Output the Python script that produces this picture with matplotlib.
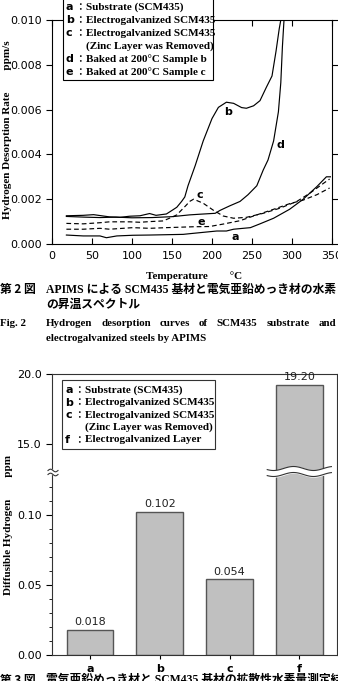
import numpy as np
import matplotlib
matplotlib.use('Agg')
import matplotlib.pyplot as plt
from matplotlib.patches import Rectangle
from matplotlib.ticker import MultipleLocator, FormatStrFormatter
from matplotlib import transforms

W, H = 338, 681
SERIF = ['Liberation Serif', 'Noto Sans CJK JP']
CJK = ['Noto Sans CJK JP', 'DejaVu Sans']

# --- Fig. 2 : desorption curves (temperature degC, rate ppm/s) ---
temp_a = [18, 39, 60, 68, 81, 101, 122, 164, 172, 206, 218, 227, 248, 260, 277, 297, 314, 331, 343, 348]
rate_a = [0.0004, 0.00036, 0.00036, 0.00028, 0.00036, 0.00039, 0.0004, 0.00043, 0.00046, 0.00058,
          0.00058, 0.00066, 0.00073, 0.0009, 0.00115, 0.00155, 0.002, 0.00256, 0.003, 0.003]
temp_b = [18, 39, 52, 72, 85, 97, 110, 122, 130, 143, 150, 156, 162, 166, 170, 175, 179, 189, 200,
          208, 218, 227, 237, 243, 252, 260, 268, 275, 280, 284, 286]
rate_b = [0.00126, 0.00128, 0.00131, 0.00121, 0.00119, 0.00124, 0.00126, 0.00136, 0.00128, 0.00134,
          0.0015, 0.00164, 0.0019, 0.0021, 0.0026, 0.0031, 0.0035, 0.0046, 0.0056, 0.0061, 0.00633,
          0.00628, 0.00609, 0.00606, 0.00617, 0.0064, 0.0070, 0.0075, 0.0086, 0.0096, 0.0100]
temp_c = [18, 39, 60, 72, 97, 110, 122, 139, 150, 156, 168, 172, 177, 189, 202, 214, 227, 243, 264,
          285, 306, 322, 339, 347]
rate_c = [0.00092, 0.0009, 0.00095, 0.00099, 0.00099, 0.00097, 0.001, 0.00103, 0.0012, 0.0013,
          0.00174, 0.0019, 0.002, 0.00182, 0.0015, 0.00125, 0.00115, 0.00119, 0.00137, 0.0016,
          0.0019, 0.00226, 0.0027, 0.0029]
temp_d = [18, 40, 60, 80, 100, 125, 150, 172, 185, 204, 210, 222, 235, 245, 256, 264, 270, 277,
          283, 286, 288, 290]
rate_d = [0.00123, 0.0012, 0.00118, 0.0012, 0.00117, 0.00118, 0.00122, 0.0013, 0.00133, 0.00137,
          0.0015, 0.0017, 0.0019, 0.0022, 0.0026, 0.0033, 0.00375, 0.0046, 0.0059, 0.0072, 0.0088, 0.0100]
temp_e = [18, 39, 60, 72, 101, 122, 143, 177, 197, 214, 235, 256, 277, 297, 314, 331, 347]
rate_e = [0.00066, 0.00066, 0.0007, 0.00066, 0.00073, 0.0007, 0.00073, 0.00077, 0.00078, 0.00089,
          0.00104, 0.0013, 0.00155, 0.0018, 0.00196, 0.0022, 0.0025]

curve_labels = ['a', 'b', 'c', 'd', 'e']
label_pos = [(229, 0.00033), (220, 0.0059), (185, 0.0022), (285, 0.0044), (187, 0.00097)]

legend2_keys = ['a', 'b', 'c', '', 'd', 'e']
legend2_text = ['Substrate (SCM435)', 'Electrogalvanized SCM435', 'Electrogalvanized SCM435',
                '(Zinc Layer was Removed)', 'Baked at 200°C Sample b', 'Baked at 200°C Sample c']

# --- Fig. 3 : diffusible hydrogen (ppm) ---
samples = ['a', 'b', 'c', 'f']
hydrogen = [0.018, 0.102, 0.054, 19.20]
legend3_keys = ['a', 'b', 'c', '', 'f']
legend3_text = ['Substrate (SCM435)', 'Electrogalvanized SCM435', 'Electrogalvanized SCM435',
                '(Zinc Layer was Removed)', 'Electrogalvanized Layer']


def fx(x):
    return x / W


def fy(y):
    return 1 - y / H


def justified(fig, text, x0, x1, y, **kw):
    # spread the words of one caption line from x0 to x1 (pixels)
    words = text.split()
    r = fig.canvas.get_renderer()
    arts = [fig.text(fx(x0), fy(y), w, **kw) for w in words]
    widths = [a.get_window_extent(r).width for a in arts]
    gap = (x1 - x0 - sum(widths)) / (len(words) - 1)
    x = x0
    for a, w in zip(arts, widths):
        a.set_x(fx(x))
        x += w + gap


fig = plt.figure(figsize=(W / 100, H / 100), dpi=100)

# ---------------- top chart ----------------
ax1 = fig.add_axes([fx(52), fy(244), 280 / W, 224 / H])
solid = dict(color='black', lw=0.85)
dash = dict(color='black', lw=0.85, ls=(0, (4, 2.5)))
ax1.plot(temp_a, rate_a, **solid)
ax1.plot(temp_b, rate_b, **solid)
ax1.plot(temp_c, rate_c, **dash)
ax1.plot(temp_d, rate_d, **solid)
ax1.plot(temp_e, rate_e, **dash)
for lab, (tx, ty) in zip(curve_labels, label_pos):
    ax1.text(tx, ty, lab, fontsize=8, fontweight='bold', ha='center', va='center')
ax1.set_xlim(0, 350)
ax1.set_ylim(0, 0.010)
ax1.set_xticks(np.arange(0, 351, 50))
ax1.set_yticks(np.arange(0, 0.0101, 0.002))
ax1.yaxis.set_major_formatter(FormatStrFormatter('%.3f'))
ax1.tick_params(axis='x', direction='in', top=True, length=4, labelsize=8, pad=5)
ax1.tick_params(axis='y', direction='out', length=4, labelsize=8)
ax1.tick_params(axis='y', which='both', right=True)
for s in ax1.spines.values():
    s.set_linewidth(0.8)

fig.text(fx(8), fy(130), 'Hydrogen Desorption Rate        ppm/s', rotation=90,
         ha='center', va='center', fontsize=8, fontweight='bold', family=SERIF)
fig.text(fx(194), fy(276), 'Temperature        °C', ha='center', va='center',
         fontsize=8, fontweight='bold', family=SERIF)

# legend box (top)
fig.add_artist(Rectangle((fx(63), fy(80)), 150 / W, 90 / H, transform=fig.transFigure,
                         facecolor='white', edgecolor='black', lw=0.8))
for i, (k, t) in enumerate(zip(legend2_keys, legend2_text)):
    y = 7.3 + i * 12.9
    if k:
        fig.text(fx(66), fy(y), k, fontsize=8, fontweight='bold', va='center')
        fig.text(fx(75), fy(y), '：', fontsize=7, fontweight='bold', va='center', family=CJK)
    fig.text(fx(86), fy(y), t, fontsize=8, fontweight='bold', va='center', family=SERIF)

# caption Fig. 2
cap = dict(fontsize=8.5, fontweight='bold', va='center')
capen = dict(fontsize=7.8, fontweight='bold', va='center', family=SERIF)
fig.text(fx(0), fy(290), '第 2 図', family=CJK, **cap)
fig.text(fx(46), fy(290), 'APIMS による SCM435 基材と電気亜鉛めっき材の水素', family=SERIF, **cap)
fig.text(fx(46), fy(305), 'の昇温スペクトル', family=SERIF, **cap)
fig.text(fx(0), fy(323), 'Fig. 2', **capen)
justified(fig, 'Hydrogen desorption curves of SCM435 substrate and', 46, 336, 323, **capen)
fig.text(fx(46), fy(338), 'electrogalvanized steels by APIMS', **capen)

# ---------------- bottom chart (broken axis) ----------------
ax_hi = fig.add_axes([fx(52), fy(472), 285 / W, 98 / H])
ax_lo = fig.add_axes([fx(52), fy(655), 285 / W, 183 / H])
xpos = np.arange(len(samples))
for ax in (ax_hi, ax_lo):
    ax.bar(xpos, hydrogen, width=0.67, color='#c0c0c0', edgecolor='#555555', lw=1.0)
    ax.set_xlim(-0.545, 3.54)
    for s in ax.spines.values():
        s.set_linewidth(0.8)
        s.set_color('#333333')
ax_hi.set_ylim(13.0, 20.0)
ax_hi.set_yticks([15.0, 20.0])
ax_hi.yaxis.set_major_formatter(FormatStrFormatter('%.1f'))
ax_hi.spines['bottom'].set_visible(False)
ax_hi.tick_params(axis='x', bottom=False, labelbottom=False)
ax_hi.tick_params(axis='y', length=4, labelsize=8)

ax_lo.set_ylim(0, 0.1307)
ax_lo.set_yticks([0.0, 0.05, 0.10])
ax_lo.yaxis.set_major_formatter(FormatStrFormatter('%.2f'))
ax_lo.yaxis.set_minor_locator(MultipleLocator(0.01))
ax_lo.spines['top'].set_visible(False)
ax_lo.tick_params(axis='y', length=4, labelsize=8)
ax_lo.tick_params(axis='y', which='minor', length=2.5)
ax_lo.set_xticks(xpos)
ax_lo.set_xticklabels(samples, fontweight='bold')
ax_lo.tick_params(axis='x', length=3, labelsize=8)

for i, v in enumerate(hydrogen):
    ax = ax_hi if v > 1 else ax_lo
    txt = f'{v:.2f}' if v > 1 else f'{v:.3f}'
    ax.annotate(txt, (xpos[i], v), xytext=(0, 2), textcoords='offset points',
                ha='center', va='bottom', fontsize=8, color='#222222')

# wavy break across bar f
tr = transforms.blended_transform_factory(ax_lo.transData, fig.transFigure)
xw = np.linspace(xpos[3] - 0.46, xpos[3] + 0.46, 80)
yw = 468.5 + 2.0 * np.cos(2 * np.pi * (xw - (xpos[3] - 0.37)) / 0.573)
ax_lo.fill_between(xw, fy(yw), fy(yw + 6), transform=tr, color='white', zorder=5, clip_on=False)
ax_lo.plot(xw, fy(yw), transform=tr, color='#333333', lw=0.8, zorder=6, clip_on=False)
ax_lo.plot(xw, fy(yw + 6), transform=tr, color='#333333', lw=0.8, zorder=6, clip_on=False)

# break mark on the left spine
xs = np.linspace(48, 58, 30)
ys = 1.3 * np.sin(2 * np.pi * (xs - 48) / 10)
ax_lo.fill_between(fx(xs), fy(470.5 - ys), fy(474.5 - ys), transform=fig.transFigure,
                   color='white', zorder=5, clip_on=False)
for y0 in (470.5, 474.5):
    ax_lo.plot(fx(xs), fy(y0 - ys), transform=fig.transFigure, color='#333333', lw=0.8,
               zorder=6, clip_on=False)

fig.text(fx(9), fy(525), 'Diffusible Hydrogen        ppm', rotation=90, ha='center',
         va='center', fontsize=8, fontweight='bold', family=SERIF)

# legend box (bottom)
fig.add_artist(Rectangle((fx(62), fy(449)), 153 / W, 69 / H, transform=fig.transFigure,
                         facecolor='white', edgecolor='#333333', lw=0.8))
for i, (k, t) in enumerate(zip(legend3_keys, legend3_text)):
    y = 390 + i * 12.5
    if k:
        fig.text(fx(65), fy(y), k, fontsize=8, fontweight='bold', va='center')
        fig.text(fx(74), fy(y), '：', fontsize=7, fontweight='bold', va='center', family=CJK)
    fig.text(fx(85), fy(y), t, fontsize=8, fontweight='bold', va='center', family=SERIF)

# caption Fig. 3 (cut by the page edge)
fig.text(fx(0), fy(674), '第 3 図', family=CJK, fontsize=8.5, fontweight='bold', va='top')
fig.text(fx(46), fy(674), '電気亜鉛めっき材と SCM435 基材の拡散性水素量測定結果', family=SERIF,
         fontsize=8.5, fontweight='bold', va='top')

fig.savefig('out.png', dpi=100)
